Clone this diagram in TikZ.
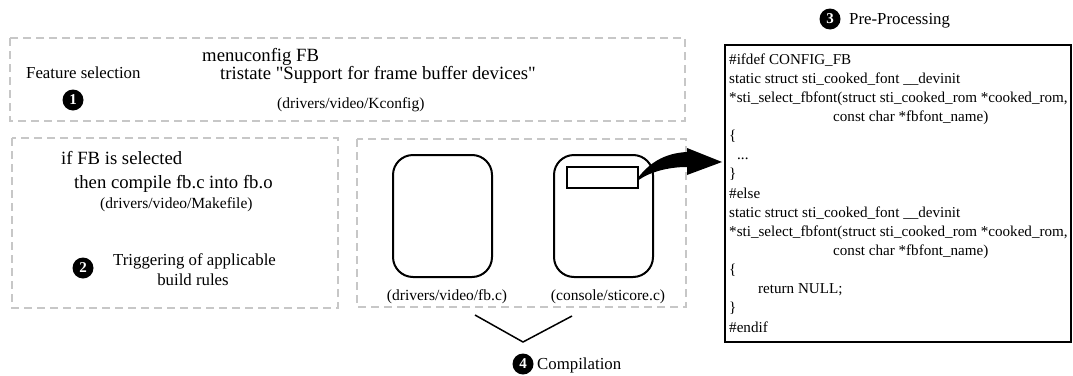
\documentclass[tikz,border=0pt]{standalone}
\usepackage{fontspec}
\setmainfont{Liberation Serif}
\newfontfamily\plainserif{Liberation Serif}
\usetikzlibrary{calc}
\begin{document}
\begin{tikzpicture}[x=1pt,y=-1pt,
  dbox/.style={draw=black!22,line width=1.5pt,dash pattern=on 8pt off 5pt},
  lbl/.style={inner sep=0pt,anchor=base west,font=\fontsize{16.8}{18}\selectfont},
  stmt/.style={inner sep=0pt,anchor=base west,font=\fontsize{18.7}{20}\selectfont},
  fpath/.style={inner sep=0pt,anchor=base,font=\fontsize{15.5}{17}\selectfont},
  num/.style={circle,fill=black,text=white,inner sep=0pt,minimum size=21pt,font=\fontsize{15}{15}\selectfont\bfseries},
  codeline/.style={inner sep=0pt,anchor=base west,font=\fontsize{15.1}{16}\selectfont},
  filebox/.style={draw,line width=2pt,rounded corners=20pt},
]
\useasboundingbox (0,0) rectangle (1073,375);
% dashed regions
\draw[dbox] (10,38) rectangle (685,121);
\draw[dbox] (12,138) rectangle (338,308);
\draw[dbox] (357,139) rectangle (686,307);
% region 1
\node[lbl] (feat) at (26,78.5) {Feature selection};
\node[num] (n1) at (73,100) {1};
\node[stmt] (menu) at (202,61) {menuconfig FB};
\node[stmt,font=\fontsize{18.7}{20}\plainserif] (tri) at (220,79) {tristate "Support for frame buffer devices"};
\node[fpath,anchor=base west] (kconf) at (277,108) {(drivers/video/Kconfig)};
% region 2
\node[stmt] (iffb) at (61,164) {if FB is selected};
\node[stmt] (then) at (74,188) {then compile fb.c into fb.o};
\node[fpath,anchor=base west] (mk) at (100,208) {(drivers/video/Makefile)};
\node[num] (n2) at (83,268) {2};
\node[lbl] (trig) at (113,265.5) {Triggering of applicable};
\node[lbl,anchor=base] (build) at (193,285.5) {build rules};
% region 3: source files
\draw[filebox] (393,155) rectangle (492,277);
\node[inner sep=0pt,minimum width=99pt,minimum height=122pt] (fbc) at (442.5,216) {};
\draw[filebox] (554,155) rectangle (653,277);
\node[inner sep=0pt,minimum width=99pt,minimum height=122pt] (sticore) at (603.5,216) {};
\node[draw,line width=1.2pt,inner sep=0pt,minimum width=71pt,minimum height=21pt] (frag) at (602.5,177.5) {};
\node[fpath] (fbcl) at (447,300) {(drivers/video/fb.c)};
\node[fpath] (stil) at (608,300) {(console/sticore.c)};
% compilation
\coordinate (vl) at (475,315);
\coordinate (vm) at (523,342);
\coordinate (vr) at (572,316);
\draw[line width=1.5pt] (vl) -- (vm) -- (vr);
\node[num] (n4) at (523,364) {4};
\node[lbl] (comp) at (537,369.5) {Compilation};
% pre-processing
\node[num] (n3) at (830,19) {3};
\node[lbl] (pre) at (849,24.5) {Pre-Processing};
\node[draw,line width=2.5pt,inner sep=0pt,minimum width=346pt,minimum height=297pt] (code) at (898,193.5) {};
\foreach \t/\ind [count=\i from 0] in {
  {\#ifdef CONFIG\_FB}/0,
  {static struct sti\_cooked\_font \_\_devinit}/0,
  {*sti\_select\_fbfont(struct sti\_cooked\_rom *cooked\_rom,}/0,
  {const char *fbfont\_name)}/104,
  {\{}/0,
  {...}/8,
  {\}}/0,
  {\#else}/0,
  {static struct sti\_cooked\_font \_\_devinit}/0,
  {*sti\_select\_fbfont(struct sti\_cooked\_rom *cooked\_rom,}/0,
  {const char *fbfont\_name)}/104,
  {\{}/0,
  {return NULL;}/29,
  {\}}/0,
  {\#endif}/0}
  \node[codeline] (cl\i) at (729+\ind,64+19.15*\i) {\t};
% curved arrow from fragment to code
\fill ($(frag.east)+(0,-0.5)$) .. controls (652,160) and (668,153) .. (687,152)
  -- (687,148) -- (722,162) -- (687,175) -- (687,167)
  .. controls (668,167) and (650,172) .. ($(frag.east)+(0,2.5)$) -- cycle;
\end{tikzpicture}
\end{document}
